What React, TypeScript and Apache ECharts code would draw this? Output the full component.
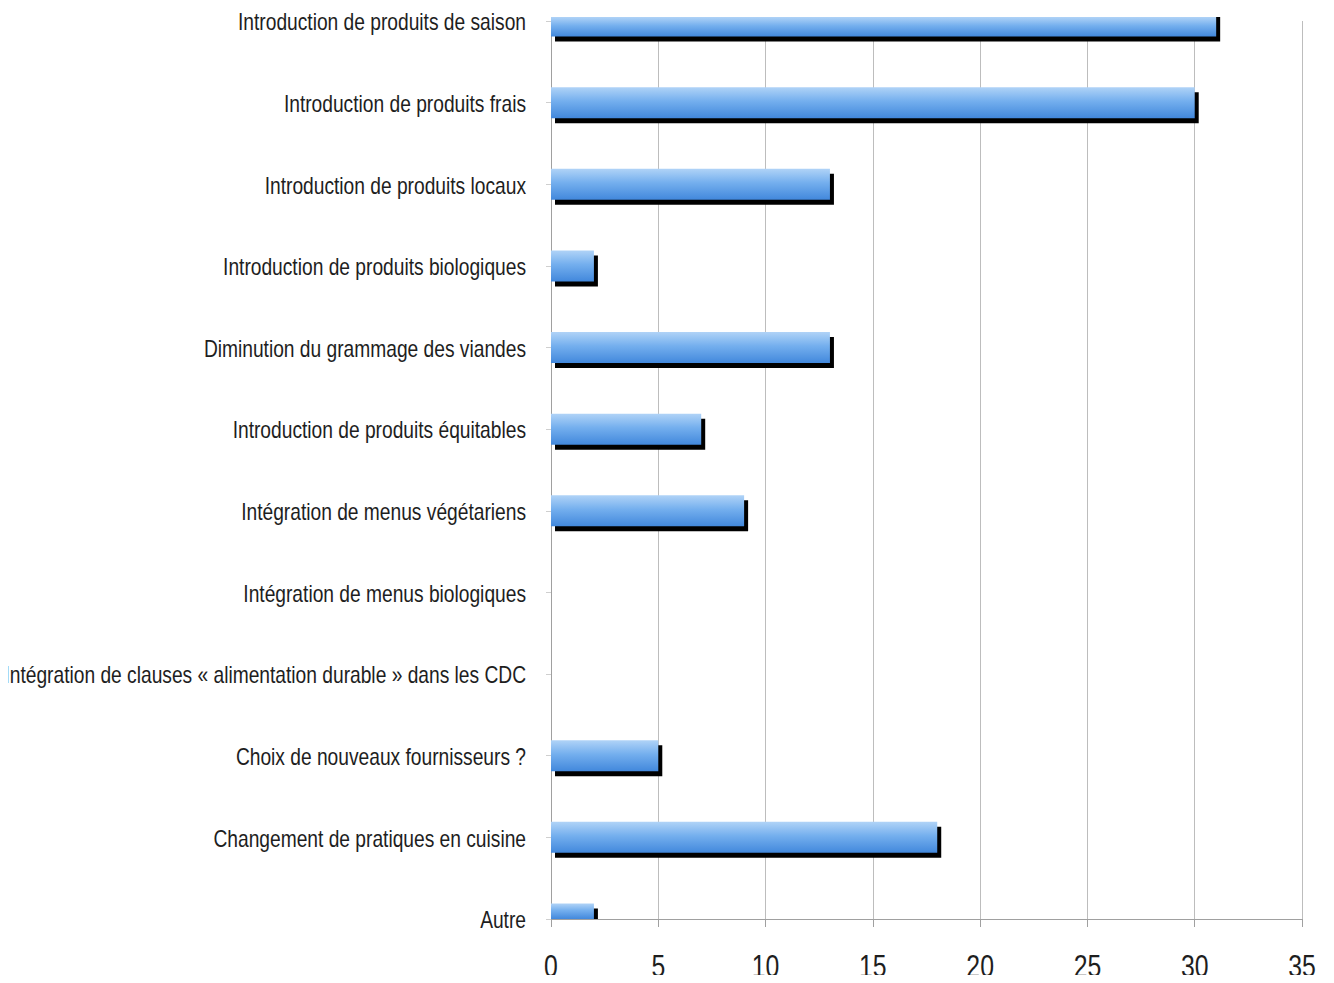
import React, { useEffect, useRef } from "react";
import * as echarts from "echarts";

const categories = [
  "Introduction de produits de saison",
  "Introduction de produits frais",
  "Introduction de produits locaux",
  "Introduction de produits biologiques",
  "Diminution du grammage des viandes",
  "Introduction de produits équitables",
  "Intégration de menus végétariens",
  "Intégration de menus biologiques",
  "Intégration de clauses « alimentation durable » dans les CDC",
  "Choix de nouveaux fournisseurs ?",
  "Changement de pratiques en cuisine",
  "Autre",
];
const values = [31, 30, 13, 2, 13, 7, 9, 0, 0, 5, 18, 2];
const xMin = 0;
const xMax = 35;
const xInterval = 5;
const xTicks = [0, 5, 10, 15, 20, 25, 30, 35];

const FONT = "'Liberation Sans', Arial, sans-serif";

export default function App() {
  const ref = useRef<HTMLDivElement>(null);
  useEffect(() => {
    const chart = echarts.init(ref.current!, undefined, { renderer: "svg" });
    const barGrad = new echarts.graphic.LinearGradient(0, 0, 0, 1, [
      { offset: 0, color: "#b0d3f7" },
      { offset: 0.45, color: "#74afee" },
      { offset: 1, color: "#4288dc" },
    ]);
    const BAR_H = 31;
    const SH_X = 4;
    const SH_Y = 5;

    const clampRect = (x: number, y: number, w: number, h: number, yMin: number, yMax: number) => {
      const y0 = Math.max(y, yMin);
      const y1 = Math.min(y + h, yMax);
      if (y1 <= y0 || w <= 0) return null;
      return { x, y: y0, width: w, height: y1 - y0 };
    };

    const renderBar = (params: any, api: any) => {
      const idx = api.value(1);
      const v = api.value(0);
      const cs = params.coordSys;
      const p0 = api.coord([0, idx]);
      const p1 = api.coord([v, idx]);
      const yMin = cs.y - 4;
      const yMax = cs.y + cs.height;
      const children: any[] = [];
      const w = p1[0] - p0[0];
      if (v > 0) {
        const top = p0[1] - BAR_H / 2;
        const sh = clampRect(p0[0] + SH_X, top + SH_Y, w, BAR_H, yMin, yMax);
        if (sh) children.push({ type: "rect", shape: sh, style: { fill: "#000000" } });
        const bl = clampRect(p0[0], top, w, BAR_H, yMin, yMax);
        if (bl) children.push({ type: "rect", shape: bl, style: { fill: barGrad } });
      }
      children.push({
        type: "text",
        x: cs.x - 25,
        y: p0[1] + 1,
        scaleX: 0.8,
        style: {
          text: categories[idx],
          fontFamily: FONT,
          fontSize: 24,
          fill: "#1e1e1e",
          align: "right",
          verticalAlign: "middle",
        },
      });
      return { type: "group", children };
    };

    const renderXLabel = (params: any, api: any) => {
      const t = api.value(0);
      const cs = params.coordSys;
      const p = api.coord([t, categories.length - 1]);
      return {
        type: "text",
        x: p[0],
        y: cs.y + cs.height + 48,
        scaleX: 0.8,
        style: {
          text: String(xTicks[params.dataIndex]),
          fontFamily: FONT,
          fontSize: 31,
          fill: "#1e1e1e",
          align: "center",
          verticalAlign: "middle",
        },
      };
    };

    chart.setOption({
      animation: false,
      backgroundColor: "#ffffff",
      grid: { left: 551, right: 32, top: 21, bottom: 64, containLabel: false, outerBoundsMode: "none" },
      xAxis: {
        type: "value",
        min: xMin,
        max: xMax,
        interval: xInterval,
        axisLine: { show: true, lineStyle: { color: "#a0a0a0", width: 1 } },
        axisTick: { show: true, length: 8, lineStyle: { color: "#a0a0a0" } },
        splitLine: { show: true, lineStyle: { color: "#bdbdbd", width: 1 } },
        axisLabel: { show: false },
      },
      yAxis: {
        type: "category",
        data: categories,
        inverse: true,
        boundaryGap: false,
        axisLine: { show: true, lineStyle: { color: "#a0a0a0", width: 1 } },
        axisTick: { show: true, length: 5, lineStyle: { color: "#cfcfcf" } },
        splitLine: { show: false },
        axisLabel: { show: false },
      },
      series: [
        {
          type: "custom",
          renderItem: renderBar,
          data: values.map((v, i) => [v, i]),
          encode: { x: 0, y: 1 },
          clip: false,
          z: 3,
        },
        {
          type: "custom",
          renderItem: renderXLabel,
          data: xTicks.map((t) => [t, categories.length - 1]),
          encode: { x: 0, y: 1 },
          clip: false,
          z: 3,
        },
      ],
    });
    return () => chart.dispose();
  }, []);
  return <div ref={ref} style={{ width: 1334, height: 983, margin: -8 }} />;
}
